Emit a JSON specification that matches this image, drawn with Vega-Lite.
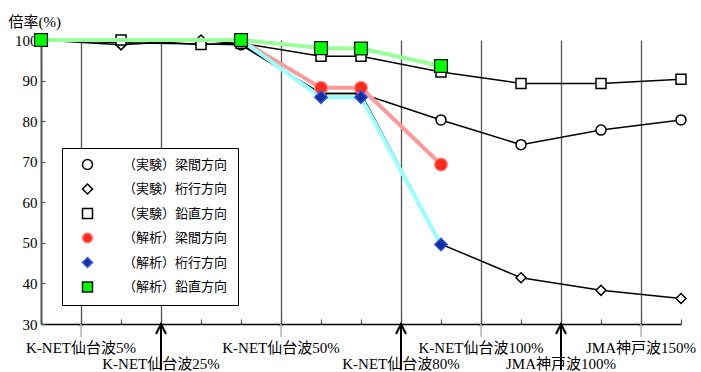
{
  "$schema": "https://vega.github.io/schema/vega-lite/v6.json",
  "width": 640,
  "height": 284,
  "autosize": "none",
  "padding": {"left": 41, "top": 40, "right": 20, "bottom": 48},
  "config": {
    "view": {"stroke": null},
    "font": "'Liberation Serif', 'Times New Roman', 'DejaVu Serif', 'Noto Sans CJK JP'"
  },
  "datasets": {
    "series": [
      {"series": "（実験）梁間方向", "x": 0, "y": 100},
      {"series": "（実験）梁間方向", "x": 2, "y": 99.3},
      {"series": "（実験）梁間方向", "x": 4, "y": 99},
      {"series": "（実験）梁間方向", "x": 5, "y": 98.8},
      {"series": "（実験）梁間方向", "x": 7, "y": 86.8},
      {"series": "（実験）梁間方向", "x": 8, "y": 86.8},
      {"series": "（実験）梁間方向", "x": 10, "y": 80.3},
      {"series": "（実験）梁間方向", "x": 12, "y": 74.2},
      {"series": "（実験）梁間方向", "x": 14, "y": 77.8},
      {"series": "（実験）梁間方向", "x": 16, "y": 80.3},
      {"series": "（実験）桁行方向", "x": 0, "y": 100},
      {"series": "（実験）桁行方向", "x": 2, "y": 98.8},
      {"series": "（実験）桁行方向", "x": 4, "y": 100},
      {"series": "（実験）桁行方向", "x": 5, "y": 99},
      {"series": "（実験）桁行方向", "x": 7, "y": 86.8},
      {"series": "（実験）桁行方向", "x": 8, "y": 86.8},
      {"series": "（実験）桁行方向", "x": 10, "y": 49.7},
      {"series": "（実験）桁行方向", "x": 12, "y": 41.4},
      {"series": "（実験）桁行方向", "x": 14, "y": 38.3},
      {"series": "（実験）桁行方向", "x": 16, "y": 36.3},
      {"series": "（実験）鉛直方向", "x": 0, "y": 100},
      {"series": "（実験）鉛直方向", "x": 2, "y": 100},
      {"series": "（実験）鉛直方向", "x": 4, "y": 98.9},
      {"series": "（実験）鉛直方向", "x": 5, "y": 99.2},
      {"series": "（実験）鉛直方向", "x": 7, "y": 96},
      {"series": "（実験）鉛直方向", "x": 8, "y": 96},
      {"series": "（実験）鉛直方向", "x": 10, "y": 92.1},
      {"series": "（実験）鉛直方向", "x": 12, "y": 89.3},
      {"series": "（実験）鉛直方向", "x": 14, "y": 89.3},
      {"series": "（実験）鉛直方向", "x": 16, "y": 90.3},
      {"series": "（解析）梁間方向", "x": 0, "y": 100},
      {"series": "（解析）梁間方向", "x": 5, "y": 100},
      {"series": "（解析）梁間方向", "x": 7, "y": 88.2},
      {"series": "（解析）梁間方向", "x": 8, "y": 88.2},
      {"series": "（解析）梁間方向", "x": 10, "y": 69.3},
      {"series": "（解析）桁行方向", "x": 0, "y": 100},
      {"series": "（解析）桁行方向", "x": 5, "y": 100},
      {"series": "（解析）桁行方向", "x": 7, "y": 85.9},
      {"series": "（解析）桁行方向", "x": 8, "y": 85.9},
      {"series": "（解析）桁行方向", "x": 10, "y": 49.6},
      {"series": "（解析）鉛直方向", "x": 0, "y": 100},
      {"series": "（解析）鉛直方向", "x": 5, "y": 100},
      {"series": "（解析）鉛直方向", "x": 7, "y": 98},
      {"series": "（解析）鉛直方向", "x": 8, "y": 97.9},
      {"series": "（解析）鉛直方向", "x": 10, "y": 93.6}
    ],
    "events": [
      {"x": 1, "label": "K-NET仙台波5%", "kind": "minor"},
      {"x": 3, "label": "K-NET仙台波25%", "kind": "major"},
      {"x": 6, "label": "K-NET仙台波50%", "kind": "minor"},
      {"x": 9, "label": "K-NET仙台波80%", "kind": "major"},
      {"x": 11, "label": "K-NET仙台波100%", "kind": "minor"},
      {"x": 13, "label": "JMA神戸波100%", "kind": "major"},
      {"x": 15, "label": "JMA神戸波150%", "kind": "minor"}
    ]
  },
  "encoding": {
    "x": {
      "field": "x", "type": "quantitative",
      "scale": {"domain": [0, 16], "nice": false, "zero": false},
      "axis": {
        "values": [0,1,2,3,4,5,6,7,8,9,10,11,12,13,14,15,16],
        "labels": false, "title": null,
        "tickSize": -5, "tickColor": "#555", "tickWidth": 1.2,
        "domainColor": "#000", "domainWidth": 1.5,
        "grid": true, "gridColor": "#555", "gridWidth": 1.3,
        "gridOpacity": {"condition": {"test": "indexof([1,3,6,9,11,13,15], datum.value) >= 0", "value": 1}, "value": 0}
      }
    }
  },
  "layer": [
    {
      "data": {"name": "series"},
      "transform": [{"filter": "indexof(datum.series, '実験') >= 0"}],
      "mark": {"type": "line", "strokeWidth": 1.5},
      "encoding": {
        "y": {
          "field": "y", "type": "quantitative",
          "scale": {"domain": [30, 100], "nice": false, "zero": false},
          "axis": {
            "values": [30,35,40,45,50,55,60,65,70,75,80,85,90,95,100],
            "labelExpr": "datum.value % 10 == 0 ? datum.label : ''",
            "tickSize": -4, "tickColor": "#555", "tickWidth": 1.2,
            "domainColor": "#555", "domainWidth": 2,
            "grid": false,
            "labelFont": "'Liberation Serif', 'Times New Roman', 'DejaVu Serif'", "labelFontSize": 15, "labelColor": "#000", "labelPadding": 8,
            "title": "倍率(%)", "titleAngle": 0, "titleAlign": "left", "titleBaseline": "middle",
            "titleX": -33, "titleY": -19,
            "titleFont": "'Liberation Serif', 'Times New Roman', 'DejaVu Serif', 'Noto Sans CJK JP'", "titleFontSize": 15, "titleFontWeight": "normal", "titleColor": "#000"
          }
        },
        "color": {
          "field": "series", "type": "nominal", "legend": null,
          "scale": {
            "domain": ["（解析）梁間方向","（解析）桁行方向","（解析）鉛直方向","（実験）梁間方向","（実験）桁行方向","（実験）鉛直方向"],
            "range": ["#ff9999","#99ffff","#99ff99","#000000","#000000","#000000"]
          }
        }
      }
    },
    {
      "data": {"name": "series"},
      "transform": [{"filter": "indexof(datum.series, '実験') >= 0"}],
      "mark": {"type": "point", "filled": true, "size": 100, "strokeWidth": 1.5, "opacity": 1},
      "encoding": {
        "y": {"field": "y", "type": "quantitative"},
        "shape": {
          "field": "series", "type": "nominal",
          "scale": {
            "domain": ["（実験）梁間方向","（実験）桁行方向","（実験）鉛直方向","（解析）梁間方向","（解析）桁行方向","（解析）鉛直方向"],
            "range": ["circle","diamond","square","circle","diamond","square"]
          },
          "legend": {
            "title": null, "orient": "none", "legendX": 21, "legendY": 108,
            "fillColor": "#ffffff", "strokeColor": "#000000", "padding": 10,
            "symbolOffset": 9, "labelOffset": 29, "rowPadding": 7.5,
            "labelFont": "'Liberation Serif', 'Times New Roman', 'DejaVu Serif', 'Noto Sans CJK JP'", "labelFontSize": 13, "labelColor": "#000", "labelLimit": 300
          }
        },
        "fill": {
          "field": "series", "type": "nominal",
          "scale": {
            "domain": ["（実験）梁間方向","（実験）桁行方向","（実験）鉛直方向","（解析）梁間方向","（解析）桁行方向","（解析）鉛直方向"],
            "range": ["#ffffff","#ffffff","#ffffff","#ff2a1a","#12309c","#00ff00"]
          },
          "legend": {
            "title": null, "orient": "none", "legendX": 21, "legendY": 108,
            "fillColor": "#ffffff", "strokeColor": "#000000", "padding": 10,
            "symbolOffset": 9, "labelOffset": 29, "rowPadding": 7.5,
            "labelFont": "'Liberation Serif', 'Times New Roman', 'DejaVu Serif', 'Noto Sans CJK JP'", "labelFontSize": 13, "labelColor": "#000", "labelLimit": 300
          }
        },
        "stroke": {
          "field": "series", "type": "nominal",
          "scale": {
            "domain": ["（実験）梁間方向","（実験）桁行方向","（実験）鉛直方向","（解析）梁間方向","（解析）桁行方向","（解析）鉛直方向"],
            "range": ["#000000","#000000","#000000","#ff8a8a","#3a5ae8","#111111"]
          },
          "legend": {
            "title": null, "orient": "none", "legendX": 21, "legendY": 108,
            "fillColor": "#ffffff", "strokeColor": "#000000", "padding": 10,
            "symbolOffset": 9, "labelOffset": 29, "rowPadding": 7.5,
            "labelFont": "'Liberation Serif', 'Times New Roman', 'DejaVu Serif', 'Noto Sans CJK JP'", "labelFontSize": 13, "labelColor": "#000", "labelLimit": 300
          }
        }
      }
    },
    {
      "data": {"name": "series"},
      "transform": [{"filter": "indexof(datum.series, '解析') >= 0"}],
      "mark": {"type": "line", "strokeWidth": 4},
      "encoding": {
        "y": {"field": "y", "type": "quantitative"},
        "color": {"field": "series", "type": "nominal", "legend": null}
      }
    },
    {
      "data": {"name": "series"},
      "transform": [{"filter": "indexof(datum.series, '解析') >= 0"}],
      "mark": {"type": "point", "filled": true, "size": 165, "strokeWidth": 1.3, "opacity": 1},
      "encoding": {
        "y": {"field": "y", "type": "quantitative"},
        "shape": {"field": "series", "type": "nominal"},
        "fill": {"field": "series", "type": "nominal"},
        "stroke": {"field": "series", "type": "nominal"}
      }
    },
    {
      "data": {"name": "events"},
      "transform": [{"filter": "datum.kind == 'minor'"}],
      "layer": [
        {
          "mark": {"type": "rule", "color": "#8c8c8c", "strokeWidth": 1, "y2Offset": 13},
          "encoding": {"y": {"datum": 30}, "y2": {"datum": 30}}
        },
        {
          "mark": {"type": "point", "shape": "M-1,1L0,0L1,1", "filled": false, "stroke": "#8c8c8c", "strokeWidth": 1, "size": 25, "opacity": 1},
          "encoding": {"y": {"datum": 30}}
        },
        {
          "mark": {"type": "text", "dy": 24, "baseline": "middle", "align": "center", "fontSize": 15, "font": "'Liberation Serif', 'Times New Roman', 'DejaVu Serif', 'Noto Sans CJK JP'", "color": "#000"},
          "encoding": {"y": {"datum": 30}, "text": {"field": "label"}}
        }
      ]
    },
    {
      "data": {"name": "events"},
      "transform": [{"filter": "datum.kind == 'major'"}],
      "layer": [
        {
          "mark": {"type": "rule", "color": "#000", "strokeWidth": 2, "y2Offset": 46},
          "encoding": {"y": {"datum": 30}, "y2": {"datum": 30}}
        },
        {
          "mark": {"type": "point", "shape": "M-1,2L0,0L1,2", "filled": false, "stroke": "#000", "strokeWidth": 2, "size": 100, "opacity": 1},
          "encoding": {"y": {"datum": 30}}
        },
        {
          "mark": {"type": "text", "dy": 40, "baseline": "middle", "align": "center", "fontSize": 15, "font": "'Liberation Serif', 'Times New Roman', 'DejaVu Serif', 'Noto Sans CJK JP'", "color": "#000"},
          "encoding": {"y": {"datum": 30}, "text": {"field": "label"}}
        }
      ]
    }
  ]
}
